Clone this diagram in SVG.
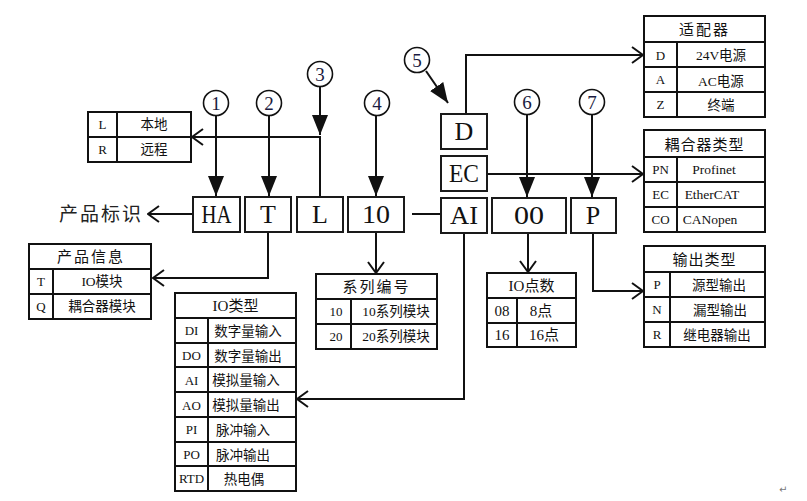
<svg xmlns="http://www.w3.org/2000/svg" width="807" height="501" viewBox="0 0 807 501">
<style>
.bg{fill:#fff}
.box{fill:#fff;stroke:#1a1a1a;stroke-width:2}
.tb{fill:#fff;stroke:#111;stroke-width:2}
.ln{fill:none;stroke:#111;stroke-width:2}
.circ{fill:#fff;stroke:#111;stroke-width:1.6}
.code{font-family:"Liberation Serif","Noto Sans CJK SC",serif;font-size:26px;fill:#111;text-anchor:middle}
.num{font-family:"Liberation Serif",serif;font-size:19px;fill:#1a1a40;text-anchor:middle}
.lab{font-family:"Liberation Serif","Noto Sans CJK SC",serif;font-size:19px;fill:#222;letter-spacing:2px}
.hd{font-family:"Liberation Serif","Noto Sans CJK SC",serif;font-size:15px;fill:#111;text-anchor:middle;letter-spacing:2px}
.cell{font-family:"Liberation Serif","Noto Sans CJK SC",serif;font-size:13.5px;fill:#111;text-anchor:middle}
.key{font-family:"Liberation Serif","Noto Sans CJK SC",serif;font-size:13px;fill:#111;text-anchor:middle}
</style>
<defs>
<marker id="fa" viewBox="0 0 20 16" refX="20" refY="8" markerWidth="20" markerHeight="16" markerUnits="userSpaceOnUse" orient="auto"><path d="M0,0 L20,8 L0,16 z" fill="#111"/></marker>
<marker id="oa" viewBox="0 0 13 18" refX="12" refY="9" markerWidth="13" markerHeight="18" markerUnits="userSpaceOnUse" orient="auto"><path d="M1,1 L12,9 L1,17" fill="none" stroke="#111" stroke-width="2"/></marker>
</defs>
<rect class="bg" x="0" y="0" width="807" height="501"/>

<g id="connectors">
<line class="ln" x1="216" y1="115.5" x2="216" y2="196" marker-end="url(#fa)"/>
<line class="ln" x1="269" y1="115.5" x2="269" y2="196" marker-end="url(#fa)"/>
<line class="ln" x1="320" y1="86.5" x2="320" y2="135" marker-end="url(#fa)"/>
<path class="ln" d="M320,196 V137 H192" marker-end="url(#oa)"/>
<line class="ln" x1="376" y1="115.5" x2="376" y2="196" marker-end="url(#fa)"/>
<line class="ln" x1="426" y1="71" x2="448" y2="103" marker-end="url(#fa)"/>
<line class="ln" x1="527" y1="114.5" x2="527" y2="197" marker-end="url(#fa)"/>
<line class="ln" x1="592" y1="114.5" x2="592" y2="197" marker-end="url(#fa)"/>
<path class="ln" d="M193,214 H148" marker-end="url(#oa)"/>
<path class="ln" d="M268,232 V278 H153" marker-end="url(#oa)"/>
<path class="ln" d="M376,232 V273" marker-end="url(#oa)"/>
<path class="ln" d="M412,214 H441"/>
<path class="ln" d="M464,233 V399 H297" marker-end="url(#oa)"/>
<path class="ln" d="M528,233 V272" marker-end="url(#oa)"/>
<path class="ln" d="M593,233 V291 H643" marker-end="url(#oa)"/>
<path class="ln" d="M466,114 V55 H643" marker-end="url(#oa)"/>
<path class="ln" d="M487,174 H643" marker-end="url(#oa)"/>
</g>

<g id="c1"><circle class="circ" cx="216" cy="103" r="12.5"/><text class="num" x="216" y="110">1</text></g>
<g id="c2"><circle class="circ" cx="269" cy="103" r="12.5"/><text class="num" x="269" y="110">2</text></g>
<g id="c3"><circle class="circ" cx="320" cy="74" r="12.5"/><text class="num" x="320" y="81">3</text></g>
<g id="c4"><circle class="circ" cx="377" cy="103" r="12.5"/><text class="num" x="377" y="110">4</text></g>
<g id="c5"><circle class="circ" cx="417" cy="60" r="12.5"/><text class="num" x="417" y="67">5</text></g>
<g id="c6"><circle class="circ" cx="527" cy="102" r="12.5"/><text class="num" x="527" y="109">6</text></g>
<g id="c7"><circle class="circ" cx="592" cy="102" r="12.5"/><text class="num" x="592" y="109">7</text></g>

<g id="label"><text class="lab" x="59" y="221">产品标识</text></g>

<g id="HA"><rect class="box" x="193" y="197" width="47" height="35"/><text class="code" x="216.5" y="223" textLength="30" lengthAdjust="spacingAndGlyphs">HA</text></g>
<g id="T"><rect class="box" x="245" y="197" width="46" height="35"/><text class="code" x="268" y="223">T</text></g>
<g id="L"><rect class="box" x="297" y="197" width="46" height="35"/><text class="code" x="320" y="223">L</text></g>
<g id="n10"><rect class="box" x="348" y="197" width="56" height="35"/><text class="code" x="376" y="223" textLength="28" lengthAdjust="spacingAndGlyphs">10</text></g>
<g id="D"><rect class="box" x="441" y="114" width="46" height="35"/><text class="code" x="464" y="140">D</text></g>
<g id="EC"><rect class="box" x="441" y="156" width="46" height="35"/><text class="code" x="464" y="182" textLength="30" lengthAdjust="spacingAndGlyphs">EC</text></g>
<g id="AI"><rect class="box" x="441" y="198" width="46" height="35"/><text class="code" x="464" y="224" textLength="28" lengthAdjust="spacingAndGlyphs">AI</text></g>
<g id="n00"><rect class="box" x="492" y="198" width="74" height="35"/><text class="code" x="529" y="224" textLength="30" lengthAdjust="spacingAndGlyphs">00</text></g>
<g id="P"><rect class="box" x="571" y="198" width="45" height="35"/><text class="code" x="593" y="224">P</text></g>

<g id="t-lr">
<rect class="tb" x="88" y="112" width="103" height="50"/>
<line class="ln" x1="88" y1="137" x2="191" y2="137"/>
<line class="ln" x1="117" y1="112" x2="117" y2="162"/>
<text class="key" x="102.5" y="129">L</text><text class="cell" x="154" y="129">本地</text>
<text class="key" x="102.5" y="154">R</text><text class="cell" x="154" y="154">远程</text>
</g>

<g id="t-info">
<rect class="tb" x="29" y="244" width="122" height="75"/>
<line class="ln" x1="29" y1="269" x2="151" y2="269"/>
<line class="ln" x1="29" y1="294" x2="151" y2="294"/>
<line class="ln" x1="53" y1="269" x2="53" y2="319"/>
<text class="hd" x="91" y="262">产品信息</text>
<text class="key" x="41" y="286">T</text><text class="cell" x="102" y="286">IO模块</text>
<text class="key" x="41" y="311">Q</text><text class="cell" x="102" y="311">耦合器模块</text>
</g>

<g id="t-io">
<rect class="tb" x="175" y="293" width="121" height="198"/>
<line class="ln" x1="175" y1="318" x2="296" y2="318"/>
<line class="ln" x1="175" y1="343" x2="296" y2="343"/>
<line class="ln" x1="175" y1="367" x2="296" y2="367"/>
<line class="ln" x1="175" y1="392" x2="296" y2="392"/>
<line class="ln" x1="175" y1="417" x2="296" y2="417"/>
<line class="ln" x1="175" y1="442" x2="296" y2="442"/>
<line class="ln" x1="175" y1="466" x2="296" y2="466"/>
<line class="ln" x1="208" y1="318" x2="208" y2="491"/>
<text class="hd" x="235.5" y="311" style="letter-spacing:0">IO类型</text>
<text class="key" x="191.5" y="335">DI</text><text class="cell" x="248" y="336">数字量输入</text>
<text class="key" x="191.5" y="360">DO</text><text class="cell" x="248" y="361">数字量输出</text>
<text class="key" x="191.5" y="385">AI</text><text class="cell" x="246" y="385">模拟量输入</text>
<text class="key" x="191.5" y="410">AO</text><text class="cell" x="246" y="410">模拟量输出</text>
<text class="key" x="191.5" y="434">PI</text><text class="cell" x="243" y="435">脉冲输入</text>
<text class="key" x="191.5" y="459">PO</text><text class="cell" x="243" y="460">脉冲输出</text>
<text class="key" x="191.5" y="483">RTD</text><text class="cell" x="244" y="484">热电偶</text>
</g>

<g id="t-series">
<rect class="tb" x="316" y="274" width="121" height="75"/>
<line class="ln" x1="316" y1="299" x2="437" y2="299"/>
<line class="ln" x1="316" y1="324" x2="437" y2="324"/>
<line class="ln" x1="351" y1="299" x2="351" y2="349"/>
<text class="hd" x="376.5" y="292">系列编号</text>
<text class="key" x="336" y="316">10</text><text class="cell" x="396" y="316">10系列模块</text>
<text class="key" x="336" y="341">20</text><text class="cell" x="396" y="341">20系列模块</text>
</g>

<g id="t-points">
<rect class="tb" x="487" y="273" width="89" height="74"/>
<line class="ln" x1="487" y1="298" x2="576" y2="298"/>
<line class="ln" x1="487" y1="323" x2="576" y2="323"/>
<line class="ln" x1="517" y1="298" x2="517" y2="347"/>
<text class="hd" x="531.5" y="291" style="letter-spacing:0">IO点数</text>
<text class="cell" x="502" y="316" style="font-size:15px">08</text><text class="cell" x="541" y="316" style="font-size:15px">8点</text>
<text class="cell" x="502" y="340" style="font-size:15px">16</text><text class="cell" x="544" y="340" style="font-size:15px">16点</text>
</g>

<g id="t-adapter">
<rect class="tb" x="644" y="16" width="121" height="101"/>
<line class="ln" x1="644" y1="42" x2="765" y2="42"/>
<line class="ln" x1="644" y1="67" x2="765" y2="67"/>
<line class="ln" x1="644" y1="92" x2="765" y2="92"/>
<line class="ln" x1="677" y1="42" x2="677" y2="117"/>
<text class="hd" x="704.5" y="35">适配器</text>
<text class="key" x="660.5" y="60">D</text><text class="cell" x="721" y="60">24V电源</text>
<text class="key" x="660.5" y="84">A</text><text class="cell" x="721" y="86">AC电源</text>
<text class="key" x="660.5" y="109">Z</text><text class="cell" x="721" y="110">终端</text>
</g>

<g id="t-coupler">
<rect class="tb" x="644" y="130" width="121" height="102"/>
<line class="ln" x1="644" y1="157" x2="765" y2="157"/>
<line class="ln" x1="644" y1="182" x2="765" y2="182"/>
<line class="ln" x1="644" y1="207" x2="765" y2="207"/>
<line class="ln" x1="677" y1="157" x2="677" y2="232"/>
<text class="hd" x="704.5" y="150" style="letter-spacing:1px">耦合器类型</text>
<text class="key" x="660.5" y="174">PN</text><text class="cell" x="714" y="174">Profinet</text>
<text class="key" x="660.5" y="199">EC</text><text class="cell" x="712" y="199">EtherCAT</text>
<text class="key" x="660.5" y="224">CO</text><text class="cell" x="710" y="224">CANopen</text>
</g>

<g id="t-output">
<rect class="tb" x="644" y="246" width="121" height="101"/>
<line class="ln" x1="644" y1="272" x2="765" y2="272"/>
<line class="ln" x1="644" y1="297" x2="765" y2="297"/>
<line class="ln" x1="644" y1="322" x2="765" y2="322"/>
<line class="ln" x1="670" y1="272" x2="670" y2="347"/>
<text class="hd" x="704.5" y="265" style="letter-spacing:1px">输出类型</text>
<text class="key" x="657" y="289">P</text><text class="cell" x="719" y="290">源型输出</text>
<text class="key" x="657" y="314">N</text><text class="cell" x="720" y="315">漏型输出</text>
<text class="key" x="657" y="339">R</text><text class="cell" x="717" y="340">继电器输出</text>
</g>

<text x="779" y="493" style="font-family:'DejaVu Sans',sans-serif;font-size:10px;fill:#777">↵</text>
</svg>
